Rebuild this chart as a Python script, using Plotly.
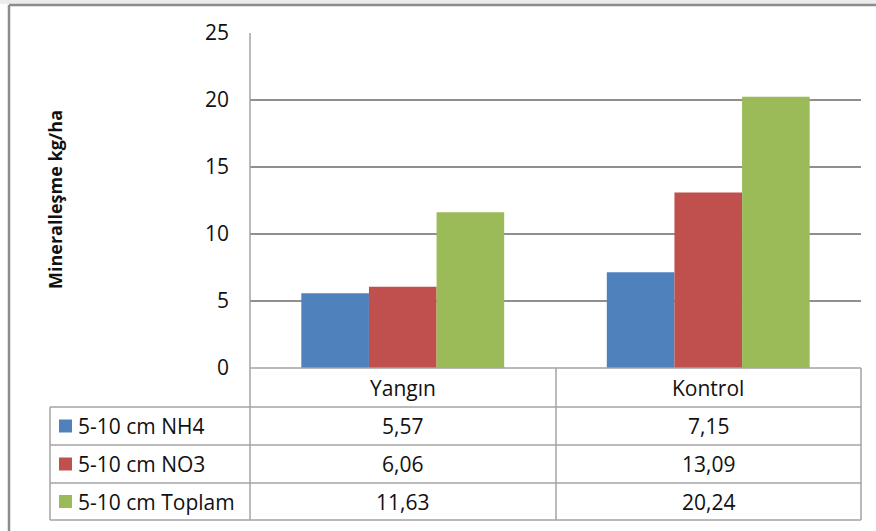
import plotly.graph_objects as go

# Data
categories = ["Yangın", "Kontrol"]
series_names = ["5-10 cm NH4", "5-10 cm NO3", "5-10 cm Toplam"]
nh4 = [5.57, 7.15]
no3 = [6.06, 13.09]
toplam = [11.63, 20.24]
series_values = [nh4, no3, toplam]
colors = ["#4F81BD", "#C0504D", "#9BBB59"]
y_ticks = [0, 5, 10, 15, 20, 25]

W, H = 876, 531
# plot area in pixels
PX0, PX1 = 250, 861
PY0, PY1 = 33, 368
FONT = "Open Sans"
TXT = "#111111"
LINE = "#a3a3a3"
FS = 21


def xp(px):
    return (px - PX0) / (PX1 - PX0)


def yp(py):
    return (PY1 - py) / (PY1 - PY0)


def fmt(v):
    return f"{v:.2f}".replace(".", ",")


fig = go.Figure()
for name, vals, col in zip(series_names, series_values, colors):
    fig.add_trace(go.Bar(
        x=categories, y=vals, name=name,
        marker=dict(color=col, line=dict(width=0)),
        showlegend=False,
    ))

shapes = []
annotations = []

# light strip above the frame
shapes.append(dict(type="rect", xref="paper", yref="paper",
                   x0=xp(0), x1=xp(W), y0=yp(0), y1=yp(4),
                   fillcolor="#ececec", line=dict(width=0), layer="below"))
# outer frame (left and top edges)
shapes.append(dict(type="line", xref="paper", yref="paper",
                   x0=xp(9), x1=xp(W), y0=yp(5), y1=yp(5),
                   line=dict(color="#8c8c8c", width=2.5)))
shapes.append(dict(type="line", xref="paper", yref="paper",
                   x0=xp(9), x1=xp(9), y0=yp(5), y1=yp(H),
                   line=dict(color="#8c8c8c", width=2.5)))

# data table grid
row_edges = [368, 407, 445, 483, 520]
for i, ry in enumerate(row_edges):
    x_start = PX0 if i == 0 else 50
    shapes.append(dict(type="line", xref="paper", yref="paper",
                       x0=xp(x_start), x1=xp(PX1), y0=yp(ry), y1=yp(ry),
                       line=dict(color=LINE, width=1.5)))
for vx, top in [(50, 407), (PX0, PY0), (556, 368), (PX1, 368)]:
    shapes.append(dict(type="line", xref="paper", yref="paper",
                       x0=xp(vx), x1=xp(vx), y0=yp(top), y1=yp(520),
                       line=dict(color=LINE, width=1.5)))

# category headers
for cat in categories:
    annotations.append(dict(x=cat, xref="x", y=yp(388), yref="paper",
                            text=cat, showarrow=False,
                            xanchor="center", yanchor="middle",
                            font=dict(family=FONT, size=FS, color=TXT)))

# series rows: legend key, name, values
for r, (name, vals, col) in enumerate(zip(series_names, series_values, colors)):
    cy = (row_edges[r + 1] + row_edges[r + 2]) / 2
    shapes.append(dict(type="rect", xref="paper", yref="paper",
                       x0=xp(59), x1=xp(72), y0=yp(cy - 6.5), y1=yp(cy + 6.5),
                       fillcolor=col, line=dict(width=0)))
    annotations.append(dict(x=xp(76), xref="paper", y=yp(cy), yref="paper",
                            text=name, showarrow=False,
                            xanchor="left", yanchor="middle",
                            font=dict(family=FONT, size=FS, color=TXT)))
    for cat, v in zip(categories, vals):
        annotations.append(dict(x=cat, xref="x", y=yp(cy), yref="paper",
                                text=fmt(v), showarrow=False,
                                xanchor="center", yanchor="middle",
                                font=dict(family=FONT, size=FS, color=TXT)))

# y axis title
annotations.append(dict(x=xp(55), xref="paper", y=yp(200), yref="paper",
                        text="<b>Mineralleşme kg/ha</b>", textangle=-90,
                        showarrow=False, xanchor="center", yanchor="middle",
                        font=dict(family=FONT, size=18, color=TXT)))

fig.update_layout(
    width=W, height=H,
    margin=dict(l=PX0, r=W - PX1, t=PY0, b=H - PY1),
    paper_bgcolor="white", plot_bgcolor="white",
    barmode="group", bargap=0.336, bargroupgap=0,
    shapes=shapes, annotations=annotations,
    xaxis=dict(showticklabels=False, showgrid=False, zeroline=False,
               showline=False, ticks=""),
    yaxis=dict(range=[0, 25], tickvals=y_ticks, showgrid=True,
               gridcolor="#8f8f8f", gridwidth=1.5, zeroline=False,
               showline=False, ticks="", ticklabelstandoff=20,
               tickfont=dict(family=FONT, size=FS, color=TXT)),
    font=dict(family=FONT, color=TXT),
)

fig.write_html("out.html")
